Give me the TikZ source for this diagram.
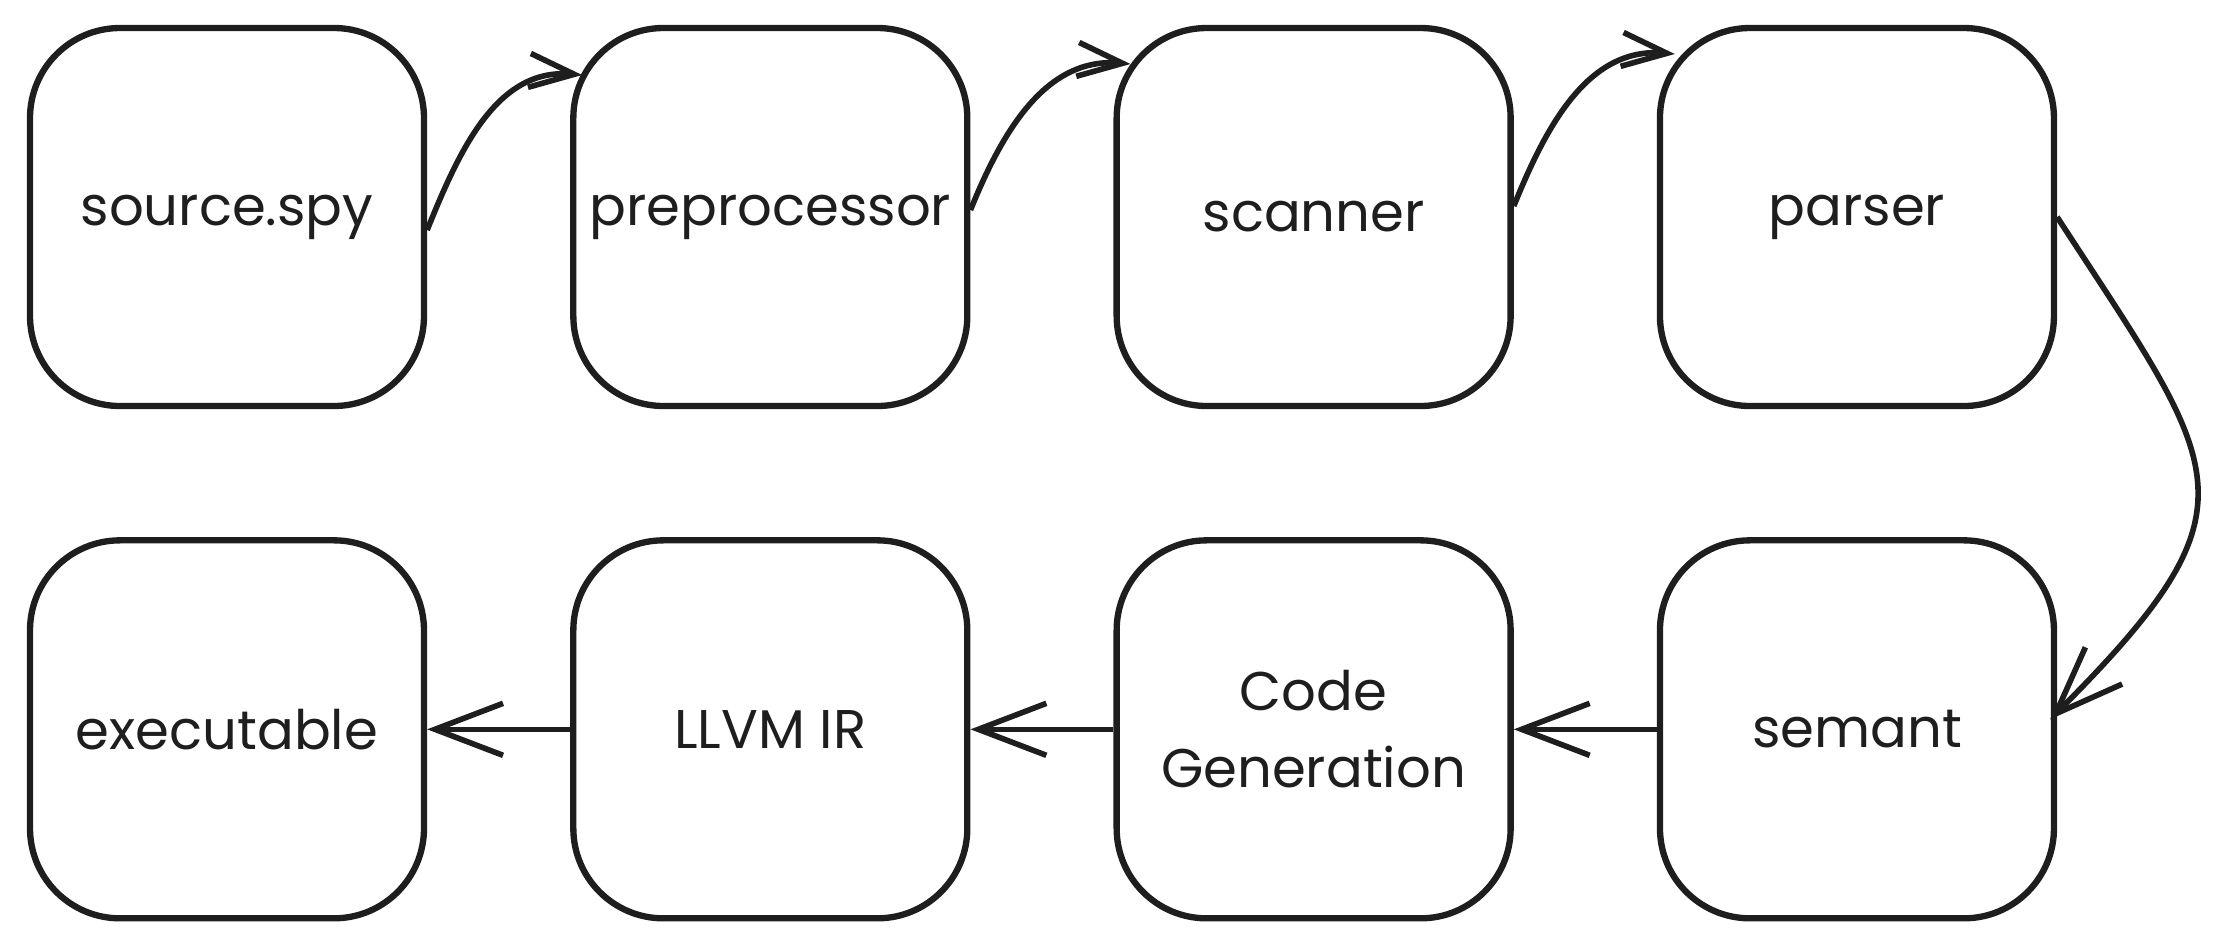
\documentclass[tikz,border=0pt]{standalone}
\usepackage{fontspec}
\setmainfont{Poppins}
\usetikzlibrary{positioning,arrows.meta}
\definecolor{ink}{HTML}{1E1E1E}

\begin{document}
\begin{tikzpicture}[x=0.1mm, y=-0.1mm,
  node distance=12.8mm and 14.3mm,
  box/.style={draw=ink, rounded corners=9mm, line width=1.8pt, align=center,
              minimum width=39.4mm, minimum height=37.8mm, text=ink,
              font=\fontsize{15.5}{22}\selectfont},
  arrow/.style={-{Straight Barb[length=6.8mm,width=5.2mm]}, line width=1.6pt, draw=ink},
  smallarrow/.style={-{Straight Barb[length=4.5mm,width=3.4mm]}, line width=1.6pt, draw=ink}
]
\useasboundingbox (0,0) rectangle (2229,951);
\node[box] at (227,217) (source) {source.spy};
\node[box, right=of source] (prep) {preprocessor};
\node[box, right=of prep] (scanner) {scanner};
\node[box, right=of scanner] (parser) {parser};
\node[box, below=of parser] (semant) {semant};
\node[box, left=of semant] (codegen) {Code\\Generation};
\node[box, left=of codegen] (llvm) {LLVM IR};
\node[box, left=of llvm] (exe) {executable};
\draw[smallarrow] ([yshift=-1.3mm]source.east) to[out=68,in=175] ([xshift=1.2mm,yshift=14.2mm]prep.west);
\draw[smallarrow] ([yshift=0.7mm]prep.east) to[out=68,in=175] ([xshift=1.7mm,yshift=15.3mm]scanner.west);
\draw[smallarrow] ([yshift=1.1mm]scanner.east) to[out=68,in=175] ([xshift=1.8mm,yshift=16.3mm]parser.west);
\draw[arrow] (parser.east) to[out=-57,in=45,looseness=1.55] ([xshift=-0.7mm,yshift=1mm]semant.east);
\draw[arrow] (semant) -- (codegen);
\draw[arrow] (codegen) -- (llvm);
\draw[arrow] (llvm) -- (exe);
\end{tikzpicture}
\end{document}
